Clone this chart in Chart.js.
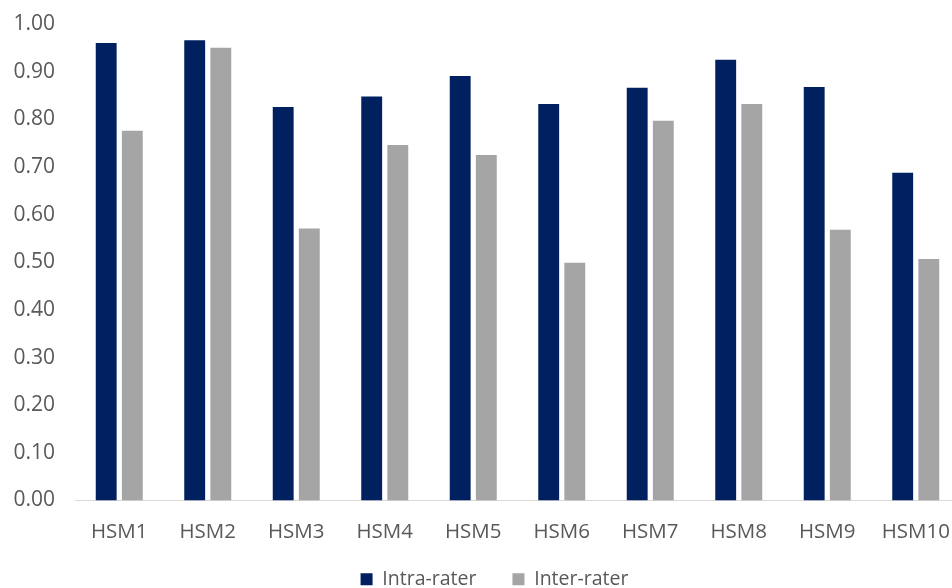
<!DOCTYPE html>
<html>
<head>
<meta charset="utf-8">
<script src="https://cdn.jsdelivr.net/npm/chart.js@4.4.1/dist/chart.umd.min.js"></script>
<style>
  html, body { margin: 0; padding: 0; background: #ffffff; }
  #wrap { width: 952px; height: 588px; position: relative; overflow: hidden; }
  #c { display: block; }
</style>
</head>
<body>
<div id="wrap"><canvas id="c" width="960" height="588"></canvas></div>
<script>
// Categories and series values
const categories = ['HSM1', 'HSM2', 'HSM3', 'HSM4', 'HSM5', 'HSM6', 'HSM7', 'HSM8', 'HSM9', 'HSM10'];
const intraRater = [0.96, 0.966, 0.826, 0.848, 0.891, 0.832, 0.866, 0.925, 0.868, 0.688];
const interRater = [0.776, 0.95, 0.571, 0.746, 0.725, 0.499, 0.797, 0.832, 0.568, 0.507];
const seriesNames = ['Intra-rater', 'Inter-rater'];

const textColor = '#595959';
const fontFamily = "'Open Sans', 'Liberation Sans', sans-serif";

// Small layout adjustments applied after Chart.js has placed its boxes
const layoutTweaks = {
  id: 'layoutTweaks',
  afterLayout(chart) {
    // let the category labels draw below the shortened x-axis box
    chart.scales.x.bottom = chart.height;
    // centre the legend under the visible plot
    const lg = chart.legend;
    const d = 494.5 - (lg.left + lg.right) / 2;
    lg.left += d;
    lg.right += d;
  }
};

new Chart(document.getElementById('c'), {
  type: 'bar',
  data: {
    labels: categories,
    datasets: [
      { label: seriesNames[0], data: intraRater, backgroundColor: '#002060',
        categoryPercentage: 0.59, barPercentage: 0.8 },
      { label: seriesNames[1], data: interRater, backgroundColor: '#a5a5a5',
        categoryPercentage: 0.59, barPercentage: 0.8 }
    ]
  },
  options: {
    responsive: false,
    animation: false,
    layout: { padding: { top: 24, right: 0, left: 0, bottom: -11 } },
    plugins: {
      tooltip: { enabled: false },
      legend: {
        position: 'bottom',
        labels: {
          color: textColor,
          font: { family: fontFamily, size: 19.5 },
          boxWidth: 12,
          boxHeight: 12,
          padding: 36
        }
      }
    },
    scales: {
      x: {
        grid: { display: false, drawTicks: false },
        border: { display: true, color: '#d9d9d9', width: 1 },
        ticks: { color: textColor, font: { family: fontFamily, size: 20.5 }, padding: 19, maxRotation: 0 },
        afterFit: (scale) => {
          scale.height = 33;
          scale.paddingLeft = 0;
          scale.paddingRight = 0;
        }
      },
      y: {
        min: 0,
        max: 1,
        grid: { display: false, drawTicks: false },
        border: { display: false },
        ticks: {
          stepSize: 0.1,
          color: textColor,
          font: { family: fontFamily, size: 21 },
          padding: 20,
          callback: (v) => Number(v).toFixed(2)
        },
        afterFit: (scale) => {
          scale.width = 75;
          scale.paddingTop = 0;
          scale.paddingBottom = 0;
        }
      }
    }
  },
  plugins: [layoutTweaks]
});
</script>
</body>
</html>
